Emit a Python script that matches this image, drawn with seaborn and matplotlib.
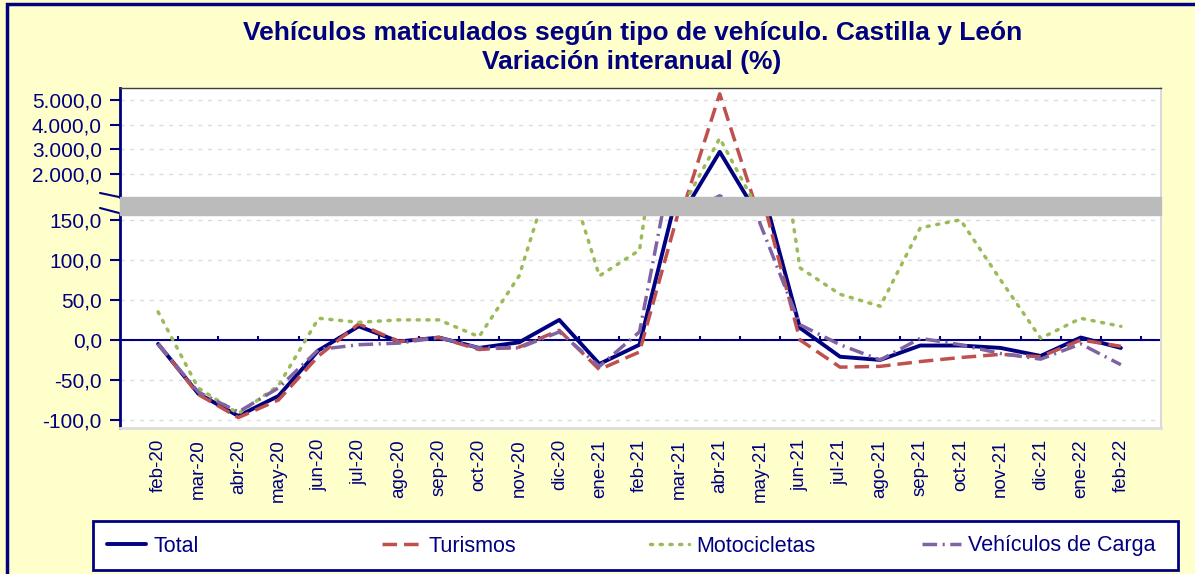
import numpy as np
import pandas as pd
import matplotlib.pyplot as plt
import seaborn as sns
from matplotlib.patches import Rectangle
from matplotlib.lines import Line2D
from matplotlib.ticker import FuncFormatter

# Datos (variación interanual, %)
meses = ['feb-20', 'mar-20', 'abr-20', 'may-20', 'jun-20', 'jul-20', 'ago-20', 'sep-20',
         'oct-20', 'nov-20', 'dic-20', 'ene-21', 'feb-21', 'mar-21', 'abr-21', 'may-21',
         'jun-21', 'jul-21', 'ago-21', 'sep-21', 'oct-21', 'nov-21', 'dic-21', 'ene-22', 'feb-22']
total = [-5, -67, -95, -70, -13, 17, -2, 3, -10, -3, 25, -30, -6, 195, 2900, 200,
         15, -21, -25, -7, -7, -10, -20, 3, -10]
turismos = [-5, -68, -97, -75, -20, 20, -2, 3, -12, -9, 12, -37, -15, 165, 5250, 190,
            0, -34, -33, -27, -22, -18, -21, 0, -8]
motocicletas = [35, -60, -92, -57, 27, 22, 25, 25, 4, 80, 240, 80, 112, 450, 3450, 420,
                90, 57, 42, 140, 150, 75, 2, 27, 17]
carga = [-5, -65, -90, -60, -12, -6, -4, 3, -10, -10, 10, -33, 10, 270, 1120, 146,
         19, -6, -25, 2, -6, -17, -24, -5, -31]

series = ['Total', 'Turismos', 'Motocicletas', 'Vehículos de Carga']
colores = ['#000080', '#C0504D', '#9BBB59', '#8064A2']
estilos = ['-', (0, (4.2, 2.0)), (0, (0.6, 2.2)), (0, (4.2, 1.6, 0.6, 1.6))]
grosores = [2.8, 2.5, 2.5, 2.5]

df = pd.DataFrame({'idx': np.arange(len(meses)), 'Total': total, 'Turismos': turismos,
                   'Motocicletas': motocicletas, 'Vehículos de Carga': carga})

sns.set_theme(style='white')
plt.rcParams['font.family'] = ['Liberation Sans', 'DejaVu Sans']

navy = '#000080'
W, H = 1195, 574


def caja(l, t, r, b):
    return [l / W, 1 - b / H, (r - l) / W, (b - t) / H]


fig = plt.figure(figsize=(W / 100, H / 100), dpi=100, facecolor='#FFFFCC')
ax_top = fig.add_axes(caja(120, 88, 1161, 197))
ax_bot = fig.add_axes(caja(120, 215, 1161, 428))

for ax in (ax_top, ax_bot):
    ax.set_facecolor('white')
    for s, c, ls, lw in zip(series, colores, estilos, grosores):
        extra = {'dash_capstyle': 'round'} if s == 'Motocicletas' else {}
        sns.lineplot(data=df, x='idx', y=s, color=c, linestyle=ls, linewidth=lw,
                     estimator=None, errorbar=None, ax=ax, zorder=3, **extra)
    ax.set_xlim(-0.95, 25.0)
    ax.set_xlabel('')
    ax.set_ylabel('')
    ax.yaxis.grid(True, color='#DDDDDD', linestyle=(0, (3, 4)), linewidth=1)
    ax.yaxis.set_major_formatter(FuncFormatter(
        lambda v, p: f'{v:,.1f}'.replace(',', 'X').replace('.', ',').replace('X', '.')))
    ax.tick_params(axis='y', left=True, colors=navy, length=7, width=1.5, pad=6,
                   labelsize=15)
    ax.spines['left'].set_color(navy)
    ax.spines['left'].set_linewidth(2)
    ax.spines['right'].set_color('#D9D9D9')
    ax.spines['right'].set_linewidth(1.5)

ax_top.set_ylim(1068, 5486)
ax_top.set_yticks([2000, 3000, 4000, 5000])
ax_top.set_xticks([])
ax_top.spines['bottom'].set_visible(False)
ax_top.spines['top'].set_color('#404040')
ax_top.spines['top'].set_linewidth(1)

ax_bot.set_ylim(-110, 156)
ax_bot.set_yticks([-100, -50, 0, 50, 100, 150])
ax_bot.spines['top'].set_visible(False)
ax_bot.spines['bottom'].set_color('#DDDDDD')
ax_bot.spines['bottom'].set_linewidth(2)
ax_bot.axhline(0, color=navy, linewidth=1.5, zorder=2)
ax_bot.vlines(np.arange(len(meses)) + 0.5, 0, 5, color=navy, linewidth=1.5, zorder=2)
ax_bot.set_xticks(np.arange(len(meses)))
ax_bot.set_xticklabels(meses, rotation=90, color=navy, fontsize=13.5)
ax_bot.tick_params(axis='x', length=0, pad=8)

# franja gris del eje cortado y marcas de corte
fig.add_artist(Rectangle((120 / W, 1 - 215 / H), 1041 / W, 18 / H,
                         transform=fig.transFigure, color='#BBBBBB', zorder=5))
for y0, y1 in [(193, 197), (208, 213)]:
    fig.add_artist(Line2D([100 / W, 119 / W], [1 - y0 / H, 1 - y1 / H],
                          transform=fig.transFigure, color=navy, linewidth=1.5))

# borde de la figura
fig.add_artist(Rectangle((7 / W, -0.05), 1.1, 1 - 4 / H + 0.05, transform=fig.transFigure,
                         fill=False, edgecolor=navy, linewidth=2.5))

fig.text(0.529, 1 - 21 / H,
         'Vehículos maticulados según tipo de vehículo. Castilla y León\nVariación interanual (%)',
         ha='center', va='top', fontsize=19, fontweight='bold', color=navy, linespacing=1.25)

# leyenda: caja con cuatro entradas repartidas a partes iguales
fig.add_artist(Rectangle((93 / W, 1 - 570 / H), 1085 / W, 49 / H, transform=fig.transFigure,
                         facecolor='white', edgecolor=navy, linewidth=2, zorder=4))
for s, c, ls, lw, x0 in zip(series, colores, estilos, grosores, [107, 382, 650, 922]):
    h = Line2D([], [], color=c, linestyle=ls, linewidth=lw,
               dash_capstyle='round' if s == 'Motocicletas' else 'butt')
    lg = fig.legend([h], [s], loc='center left', bbox_to_anchor=(x0 / W, 1 - 546 / H),
                    frameon=False, fontsize=15.5, handlelength=1.8, handletextpad=0.35,
                    borderpad=0, borderaxespad=0, labelcolor=navy)
    lg.set_zorder(6)

fig.savefig('out.png', dpi=100, facecolor=fig.get_facecolor())
